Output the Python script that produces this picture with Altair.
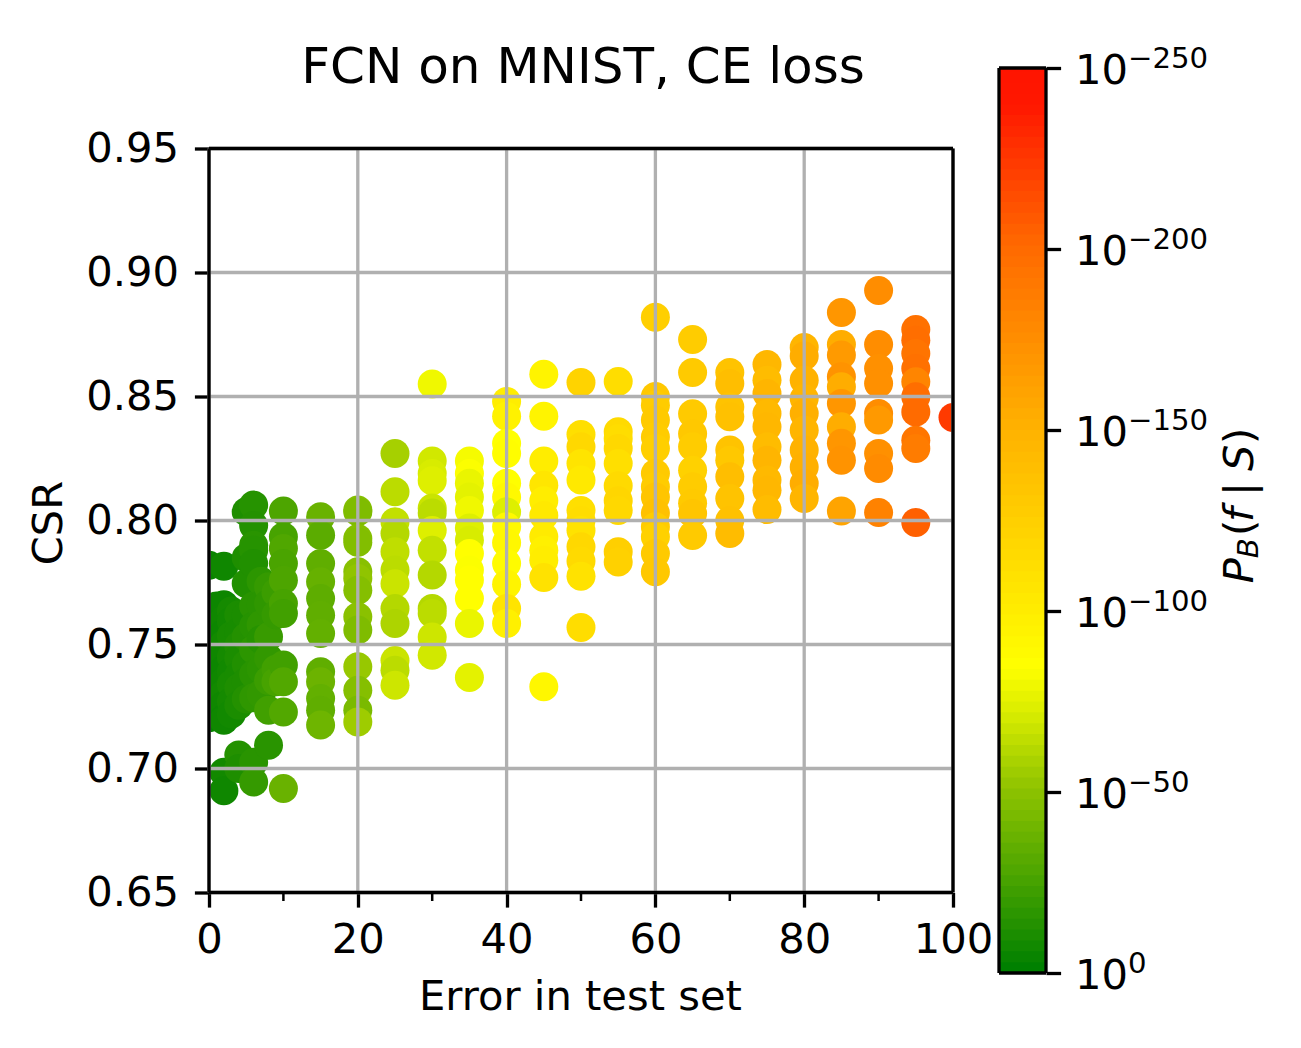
"""FCN on MNIST, CE loss: CSR against test error, coloured by P_B(f | S)."""

import altair as alt
import pandas as pd

FONT = "DejaVu Sans"
LINE = 3.3

# csr values per error column
CSR = {
    0: [0.782, 0.7544, 0.7505, 0.7425, 0.7345, 0.7275, 0.7205],
    1: [0.7655, 0.758, 0.749, 0.74, 0.732, 0.7245],
    2: [0.7816, 0.766, 0.76, 0.7545, 0.75, 0.745, 0.74, 0.735, 0.73, 0.7255, 0.7202, 0.7195, 0.6985, 0.691],
    3: [0.7635, 0.7595, 0.7535, 0.745, 0.739, 0.734, 0.727, 0.722],
    4: [0.762, 0.755, 0.7495, 0.7445, 0.7375, 0.7325, 0.7255, 0.7054, 0.7],
    5: [0.8035, 0.785, 0.7746, 0.7618, 0.753, 0.742, 0.735, 0.728],
    6: [0.8062, 0.798, 0.79, 0.788, 0.7827, 0.7655, 0.7575, 0.748, 0.738, 0.7285, 0.7025, 0.6946],
    7: [0.7755, 0.766, 0.758, 0.752, 0.74, 0.73],
    8: [0.7733, 0.7665, 0.7531, 0.7445, 0.7355, 0.7235, 0.7094],
    9: [0.771, 0.762, 0.74, 0.735],
    10: [0.8038, 0.7934, 0.7887, 0.7827, 0.7759, 0.7665, 0.7625, 0.7417, 0.735, 0.7228, 0.6919],
    15: [0.8015, 0.7941, 0.7827, 0.7753, 0.7685, 0.7618, 0.7544, 0.739, 0.735, 0.7282, 0.7235, 0.7175],
    20: [0.8042, 0.8035, 0.7927, 0.7912, 0.7793, 0.7766, 0.7719, 0.7612, 0.7558, 0.741, 0.7316, 0.7235, 0.7188],
    25: [0.827, 0.8116, 0.7995, 0.7948, 0.7874, 0.78, 0.7745, 0.7645, 0.7585, 0.7435, 0.7396, 0.7336],
    30: [0.855, 0.824, 0.819, 0.816, 0.805, 0.803, 0.796, 0.788, 0.778, 0.7645, 0.7625, 0.753, 0.7457],
    35: [0.824, 0.819, 0.815, 0.8095, 0.804, 0.797, 0.792, 0.7867, 0.78, 0.776, 0.7685, 0.7585, 0.7367],
    40: [0.848, 0.842, 0.831, 0.827, 0.815, 0.8095, 0.8035, 0.7975, 0.791, 0.7827, 0.7743, 0.7645, 0.7585],
    45: [0.859, 0.842, 0.824, 0.8142, 0.808, 0.802, 0.7934, 0.788, 0.784, 0.777, 0.733],
    50: [0.8556, 0.8347, 0.8297, 0.823, 0.8163, 0.804, 0.8, 0.796, 0.7894, 0.7837, 0.7775, 0.7569],
    55: [0.856, 0.8358, 0.833, 0.829, 0.823, 0.814, 0.808, 0.804, 0.7874, 0.7833],
    60: [0.882, 0.85, 0.8465, 0.8405, 0.8337, 0.829, 0.819, 0.8136, 0.8095, 0.803, 0.7975, 0.7934, 0.7867, 0.7793],
    65: [0.873, 0.8597, 0.843, 0.835, 0.8297, 0.8203, 0.8136, 0.807, 0.8028, 0.794],
    70: [0.8597, 0.8552, 0.8458, 0.8418, 0.8284, 0.8243, 0.8176, 0.8089, 0.8, 0.7948],
    75: [0.8629, 0.8566, 0.8512, 0.8431, 0.8378, 0.8297, 0.8243, 0.8163, 0.8122, 0.8044],
    80: [0.8698, 0.8663, 0.8566, 0.8492, 0.8431, 0.8364, 0.8284, 0.8216, 0.8149, 0.8089],
    85: [0.8839, 0.871, 0.8667, 0.858, 0.8539, 0.8472, 0.8378, 0.8311, 0.8243, 0.8038],
    90: [0.8927, 0.871, 0.8613, 0.8552, 0.8431, 0.8405, 0.827, 0.821, 0.8032],
    95: [0.877, 0.8727, 0.8673, 0.8613, 0.8559, 0.8499, 0.8438, 0.8324, 0.829, 0.7992],
    100: [0.8415],
}

# exponent of P_B(f | S) per point, same order as CSR
LOG_P = {
    0: [-3, -3, -2, -3, -2, -3, -2],
    1: [-4, -3, -4, -3, -4, -3],
    2: [-5, -4, -5, -4, -6, -5, -4, -5, -6, -5, -4, -5, -6, -5],
    3: [-7, -6, -8, -7, -6, -8, -7, -6],
    4: [-9, -8, -10, -9, -8, -10, -9, -12, -10],
    5: [-10, -10, -11, -9, -12, -11, -10, -12],
    6: [-13, -12, -14, -13, -11, -14, -13, -15, -14, -16, -14, -18],
    7: [-15, -14, -16, -13, -15, -17],
    8: [-18, -16, -19, -17, -20, -22, -14],
    9: [-20, -18, -22, -24],
    10: [-26, -24, -27, -25, -26, -24, -22, -22, -28, -28, -36],
    15: [-36, -31, -33, -35, -32, -33, -34, -33, -37, -34, -33, -38],
    20: [-46, -44, -46, -45, -47, -50, -46, -48, -44, -52, -46, -42, -54],
    25: [-56, -62, -64, -60, -63, -62, -66, -60, -58, -66, -62, -67],
    30: [-78, -68, -70, -72, -66, -62, -72, -64, -60, -60, -62, -67, -68],
    35: [-80, -82, -76, -74, -78, -72, -70, -84, -82, -84, -84, -76, -74],
    40: [-98, -94, -83, -85, -84, -88, -72, -88, -90, -86, -92, -106, -96],
    45: [-92, -92, -98, -104, -98, -102, -100, -96, -98, -108, -90],
    50: [-120, -110, -116, -106, -102, -110, -112, -108, -116, -114, -108, -112],
    55: [-112, -114, -112, -116, -110, -114, -118, -116, -124, -122],
    60: [-124, -130, -126, -128, -126, -124, -128, -126, -132, -136, -126, -122, -128, -130],
    65: [-126, -128, -128, -130, -126, -122, -126, -128, -132, -128],
    70: [-134, -138, -134, -136, -134, -130, -138, -134, -136, -140],
    75: [-144, -140, -146, -142, -144, -140, -146, -142, -144, -140],
    80: [-146, -152, -148, -146, -150, -146, -148, -150, -152, -146],
    85: [-168, -152, -165, -170, -152, -168, -152, -168, -170, -158],
    90: [-174, -174, -172, -172, -174, -166, -172, -176, -182],
    95: [-194, -196, -192, -194, -180, -196, -198, -190, -186, -204],
    100: [-222],
}

x_ticks = [0, 20, 40, 60, 80, 100]
x_minor_ticks = [10, 30, 50, 70, 90]
y_ticks = [0.65, 0.70, 0.75, 0.80, 0.85, 0.90, 0.95]
cbar_ticks = [0, -50, -100, -150, -200, -250]
cbar_exponents = ["0", "\u221250", "\u2212100", "\u2212150", "\u2212200", "\u2212250"]
color_stops = [0, -25, -50, -70, -83, -150, -175, -200, -225, -238, -250]
color_values = ["#008000", "#4aa400", "#90c400", "#d8ec00", "#ffff00",
                "#ffb000", "#ff8c00", "#ff6800", "#ff3400", "#ff1800", "#ff1400"]
cbar_levels = list(range(0, -250, -3))

rows = [
    {"error": error, "csr": csr, "log_p": log_p}
    for error in CSR
    for csr, log_p in zip(CSR[error], LOG_P[error])
]
points = pd.DataFrame(rows)
color_scale = alt.Scale(domain=color_stops, range=color_values, interpolate="rgb")

x_scale = alt.Scale(domain=[0, 100], nice=False)
y_scale = alt.Scale(domain=[0.65, 0.95], nice=False)

scatter = (
    alt.Chart(points)
    .mark_circle(size=841, opacity=1, clip=True)
    .encode(
        x=alt.X(
            "error",
            type="quantitative",
            scale=x_scale,
            axis=alt.Axis(
                title="Error in test set",
                titleX=371,
                values=x_ticks,
                format="d",
                grid=False,
                domain=False,
                titlePadding=16,
                labelPadding=12,
                labelFlush=False,
            ),
        ),
        y=alt.Y(
            "csr",
            type="quantitative",
            scale=y_scale,
            axis=alt.Axis(
                title="CSR",
                titleY=374,
                values=y_ticks,
                format=".2f",
                grid=False,
                domain=False,
                titlePadding=15,
                labelPadding=16,
            ),
        ),
        color=alt.Color("log_p", type="quantitative", scale=color_scale, legend=None),
    )
)

grid_x = (
    alt.Chart(pd.DataFrame({"x": x_ticks}))
    .mark_rule(color="#b0b0b0", strokeWidth=LINE)
    .encode(x=alt.X("x", type="quantitative", scale=x_scale))
)
grid_y = (
    alt.Chart(pd.DataFrame({"y": y_ticks}))
    .mark_rule(color="#b0b0b0", strokeWidth=LINE)
    .encode(y=alt.Y("y", type="quantitative", scale=y_scale))
)
spine_x = (
    alt.Chart(pd.DataFrame({"x": [0, 100]}))
    .mark_rule(color="black", strokeWidth=LINE)
    .encode(x=alt.X("x", type="quantitative", scale=x_scale))
)
spine_y = (
    alt.Chart(pd.DataFrame({"y": [0.65, 0.95]}))
    .mark_rule(color="black", strokeWidth=LINE)
    .encode(y=alt.Y("y", type="quantitative", scale=y_scale))
)
minor_ticks = (
    alt.Chart(pd.DataFrame({"x": x_minor_ticks}))
    .mark_rule(color="black", strokeWidth=2.5)
    .encode(
        x=alt.X("x", type="quantitative", scale=x_scale),
        y=alt.value(744),
        y2=alt.value(752.5),
    )
)

main = alt.layer(scatter, grid_x, grid_y, spine_x, spine_y, minor_ticks).properties(
    width=744,
    height=744,
    title=alt.TitleParams(
        "FCN on MNIST, CE loss",
        fontSize=50,
        fontWeight="normal",
        font=FONT,
        anchor="middle",
        offset=36,
        dx=2,
    ),
)

# colour bar, drawn through the same colour scale; bands overlap to hide the seams
bands = pd.DataFrame({"level": cbar_levels})
bands["level_end"] = (bands["level"] - 4).clip(lower=-250)
cbar_y = alt.Scale(domain=[0, -250], nice=False)
cbar_rects = (
    alt.Chart(bands)
    .mark_rect()
    .encode(
        x=alt.value(0),
        x2=alt.value(47),
        y=alt.Y(
            "level",
            type="quantitative",
            scale=cbar_y,
            axis=alt.Axis(
                orient="right",
                title=None,
                values=cbar_ticks,
                labels=False,
                grid=False,
                domain=False,
            ),
        ),
        y2="level_end",
        color=alt.Color("level", type="quantitative", scale=color_scale, legend=None),
    )
)

tick_table = pd.DataFrame({"tick": cbar_ticks, "exponent": cbar_exponents, "base": ["10"] * 6})
cbar_spine_y = (
    alt.Chart(pd.DataFrame({"y": [-250, 0]}))
    .mark_rule(color="black", strokeWidth=LINE)
    .encode(y=alt.Y("y", type="quantitative", scale=cbar_y))
)
cbar_spine_x = (
    alt.Chart(pd.DataFrame({"x": [0, 47]}))
    .mark_rule(color="black", strokeWidth=LINE)
    .encode(x=alt.X("x", type="quantitative", scale=alt.Scale(domain=[0, 47], nice=False), axis=None))
)
cbar_base = (
    alt.Chart(tick_table)
    .mark_text(font=FONT, fontSize=41.67, align="left", baseline="alphabetic", dy=16, color="black")
    .encode(
        x=alt.value(76),
        y=alt.Y("tick", type="quantitative", scale=cbar_y),
        text="base",
    )
)
cbar_exp = (
    alt.Chart(tick_table)
    .mark_text(font=FONT, fontSize=29.2, align="left", baseline="alphabetic", dy=0, color="black")
    .encode(
        x=alt.value(129),
        y=alt.Y("tick", type="quantitative", scale=cbar_y),
        text="exponent",
    )
)

# colour bar title, one text per italic or subscript run, rotated
title_runs = pd.DataFrame(
    {
        "run": ["P", "B", "(", "f", "|", "S", ")"],
        "level": [-107.7, -114.6, -120.7, -124.6, -131.8, -138.7, -146.1],
        "size": [41.67, 29.2, 41.67, 41.67, 41.67, 41.67, 41.67],
        "shift": [0, 5, 0, 0, 0, 0, 0],
    }
)
title_layers = []
for _, run in title_runs.iterrows():
    italic = run["run"] in ("P", "B", "f", "S")
    title_layers.append(
        alt.Chart(pd.DataFrame([run.to_dict()]))
        .mark_text(
            font=FONT,
            fontSize=float(run["size"]),
            fontStyle="italic" if italic else "normal",
            angle=270,
            align="left",
            baseline="alphabetic",
            color="black",
        )
        .encode(
            x=alt.value(254 + int(run["shift"])),
            y=alt.Y("level", type="quantitative", scale=cbar_y),
            text="run",
        )
    )

cbar = alt.layer(cbar_rects, cbar_spine_y, cbar_spine_x, cbar_base, cbar_exp, *title_layers).properties(
    width=47, height=905
)

chart = (
    alt.hconcat(main, cbar, spacing=46, center=True, bounds="flush")
    .properties(padding={"left": 20, "top": 34, "right": 10, "bottom": 10})
    .configure_view(strokeWidth=0)
    .configure_axis(
        labelFont=FONT,
        titleFont=FONT,
        labelFontSize=41.67,
        titleFontSize=41.67,
        titleFontWeight="normal",
        labelColor="black",
        titleColor="black",
        tickColor="black",
        tickSize=14.6,
        tickWidth=LINE,
    )
)

chart.save("out.html", embed_options={"renderer": "svg", "actions": False})
